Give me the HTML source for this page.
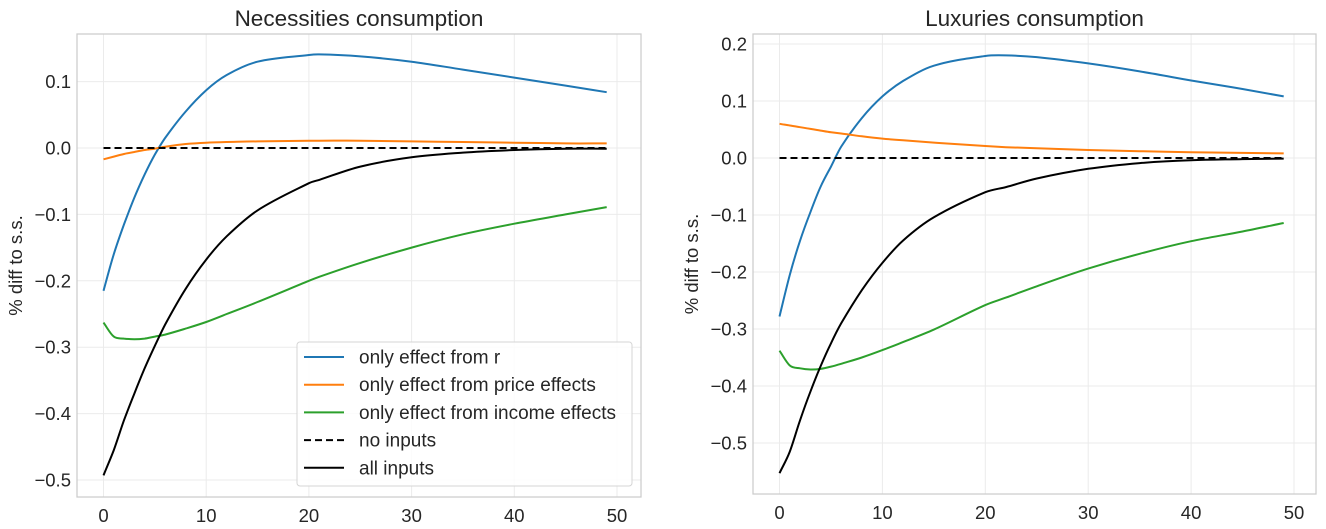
<!DOCTYPE html>
<html><head><meta charset="utf-8">
<style>
html,body{margin:0;padding:0;background:#fff;}
svg{display:block;font-family:"Liberation Sans","DejaVu Sans",sans-serif;}
</style></head>
<body>
<svg id="chart" width="1326" height="529" viewBox="0 0 1326 529" xmlns="http://www.w3.org/2000/svg"></svg>
<script>
const tL = [0,1,2,3,4,5,6,8,10,12,15,20,21,25,30,35,40,45,49];
const blueL  = [-0.215,-0.16,-0.115,-0.075,-0.04,-0.01,0.015,0.055,0.087,0.11,0.13,0.14,0.141,0.138,0.13,0.118,0.106,0.094,0.084];
const orangeL= [-0.017,-0.013,-0.009,-0.006,-0.003,-0.001,0.002,0.006,0.008,0.009,0.010,0.011,0.011,0.011,0.010,0.009,0.008,0.007,0.007];
const greenL = [-0.263,-0.284,-0.287,-0.288,-0.287,-0.284,-0.281,-0.272,-0.262,-0.250,-0.232,-0.200,-0.194,-0.173,-0.150,-0.130,-0.114,-0.100,-0.089];
const blackL = [-0.493,-0.455,-0.41,-0.37,-0.332,-0.298,-0.266,-0.212,-0.168,-0.133,-0.094,-0.053,-0.048,-0.028,-0.014,-0.007,-0.003,-0.001,-0.001];

const tR = [0,1,2,3,4,5,6,8,10,12,15,20,22,25,30,35,40,45,49];
const blueR  = [-0.278,-0.205,-0.145,-0.095,-0.05,-0.015,0.02,0.07,0.108,0.135,0.162,0.179,0.18,0.177,0.166,0.152,0.136,0.121,0.108];
const orangeR= [0.060,0.057,0.054,0.051,0.048,0.045,0.043,0.038,0.034,0.031,0.027,0.021,0.019,0.017,0.014,0.012,0.010,0.009,0.008];
const greenR = [-0.338,-0.364,-0.369,-0.371,-0.370,-0.366,-0.361,-0.350,-0.337,-0.323,-0.301,-0.258,-0.245,-0.225,-0.194,-0.168,-0.146,-0.129,-0.114];
const blackR = [-0.553,-0.515,-0.46,-0.41,-0.365,-0.325,-0.29,-0.232,-0.184,-0.145,-0.104,-0.060,-0.051,-0.036,-0.019,-0.009,-0.004,-0.002,-0.001];

const xTicks = [0,10,20,30,40,50];
const yTicksL = [0.1,0.0,-0.1,-0.2,-0.3,-0.4,-0.5];
const yTicksR = [0.2,0.1,0.0,-0.1,-0.2,-0.3,-0.4,-0.5];
const legendLabels = ["only effect from r","only effect from price effects","only effect from income effects","no inputs","all inputs"];

const NS="http://www.w3.org/2000/svg";
const svg=document.getElementById('chart');
function mk(tag,attrs,parent){const e=document.createElementNS(NS,tag);for(const k in attrs)e.setAttribute(k,attrs[k]);(parent||svg).appendChild(e);return e;}
function fmt(v){const s=Math.abs(v).toFixed(1);return (v<-1e-9?"\u2212":"")+s;}
function smoothPath(P){
  const n=P.length;
  const m=P.map((p,i)=>{
    const a=P[Math.max(0,i-1)],b=P[Math.min(n-1,i+1)];
    return (b[1]-a[1])/(b[0]-a[0]);
  });
  let d='M'+P[0][0].toFixed(1)+','+P[0][1].toFixed(1);
  for(let i=0;i<n-1;i++){
    const p1=P[i],p2=P[i+1],dx=(p2[0]-p1[0])/3;
    d+=' C'+(p1[0]+dx).toFixed(1)+','+(p1[1]+m[i]*dx).toFixed(1)+' '+(p2[0]-dx).toFixed(1)+','+(p2[1]-m[i+1]*dx).toFixed(1)+' '+p2[0].toFixed(1)+','+p2[1].toFixed(1);
  }
  return d;
}

function panel(cfg){
  const g=mk('g',{});
  
  
  const X=v=>cfg.x0+v*cfg.xs;
  const Y=v=>cfg.y0-v*cfg.ys;
  xTicks.forEach(t=>{const l=mk('line',{x1:X(t),x2:X(t),y1:cfg.top,y2:cfg.bot,stroke:'#ebebeb','stroke-width':1},g);
    });
  cfg.yTicks.forEach(t=>{const l=mk('line',{x1:cfg.left,x2:cfg.right,y1:Y(t),y2:Y(t),stroke:'#ebebeb','stroke-width':1},g);
    });
  const fr=mk('rect',{x:cfg.left,y:cfg.top,width:cfg.right-cfg.left,height:cfg.bot-cfg.top,fill:'none',stroke:'#cccccc','stroke-width':1.25},g);
  
  xTicks.forEach(t=>{const tx=mk('text',{x:X(t),y:cfg.bot+25,'text-anchor':'middle','font-size':18.5,fill:'#262626'},g);tx.textContent=t;
    });
  cfg.yTicks.forEach(t=>{const tx=mk('text',{x:cfg.left-6,y:Y(t)+6.5,'text-anchor':'end','font-size':18.5,fill:'#262626'},g);tx.textContent=fmt(t);
    });
  const ti=mk('text',{x:(cfg.left+cfg.right)/2,y:26,'text-anchor':'middle','font-size':22.5,fill:'#262626'},g);ti.textContent=cfg.title;
  
  const yl=mk('text',{x:0,y:0,'text-anchor':'middle','font-size':18.5,fill:'#262626',transform:`translate(${cfg.ylx},${(cfg.top+cfg.bot)/2}) rotate(-90)`},g);yl.textContent='% diff to s.s.';
  
  const line=(ts,vals,color,name,dash)=>{
    const P=ts.map((t,i)=>[X(t),Y(vals[i])]);
    const p=mk('path',{d:smoothPath(P),fill:'none',stroke:color,'stroke-width':2,'stroke-linejoin':'round'},g);
    if(dash)p.setAttribute('stroke-dasharray','7,4');
    
  };
  const zeros=cfg.t.map(()=>0);
  line(cfg.t,cfg.blue,'#1f77b4','series-only-r');
  line(cfg.t,cfg.orange,'#ff7f0e','series-price-effects');
  line(cfg.t,cfg.green,'#2ca02c','series-income-effects');
  line(cfg.t,zeros,'#000','series-no-inputs',true);
  line(cfg.t,cfg.black,'#000','series-all-inputs');
  return g;
}

panel({name:'necessities-panel',title:'Necessities consumption',left:77,right:641,top:34,bot:497,x0:103.5,xs:10.27,y0:148,ys:664,ylx:22,yTicks:yTicksL,t:tL,blue:blueL,orange:orangeL,green:greenL,black:blackL});
panel({name:'luxuries-panel',title:'Luxuries consumption',left:753,right:1316,top:34,bot:494,x0:779.5,xs:10.29,y0:158,ys:570,ylx:698,yTicks:yTicksR,t:tR,blue:blueR,orange:orangeR,green:greenR,black:blackR});

const lg=mk('g',{});


const lb=mk('rect',{x:297,y:342,width:335,height:144,rx:3,fill:'#fff','fill-opacity':0.85,stroke:'#d5d5d5','stroke-width':1},lg);


const legColors=['#1f77b4','#ff7f0e','#2ca02c','#000','#000'];
legendLabels.forEach((lab,i)=>{
  const y=357+i*27.7;
  const ln=mk('line',{x1:304,x2:344,y1:y,y2:y,stroke:legColors[i],'stroke-width':2},lg);
  if(i===3)ln.setAttribute('stroke-dasharray','7,4');
  
  
  const tx=mk('text',{x:359,y:y+6.5,'font-size':19,fill:'#262626'},lg);
  tx.textContent=lab;
  
  
});
</script>
</body></html>
